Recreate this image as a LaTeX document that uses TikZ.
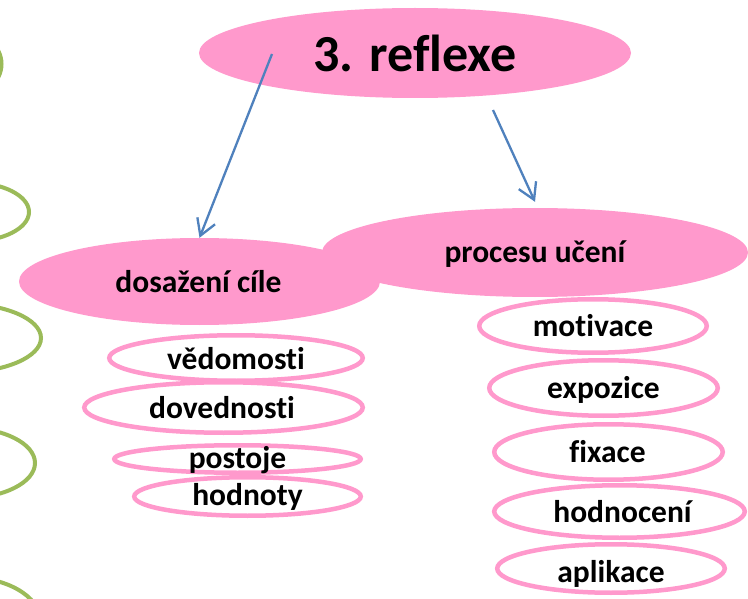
\documentclass[tikz,border=0pt]{standalone}
\usepackage{fontspec}
\setmainfont{Carlito}[Ligatures=NoCommon]
\usetikzlibrary{arrows.meta,shapes.geometric}
\definecolor{pinkfill}{HTML}{FF99CC}
\definecolor{greenline}{HTML}{9BBB59}
\definecolor{bluearrow}{HTML}{4F81BD}
\begin{document}
\begin{tikzpicture}[x=1pt,y=-1pt,
  bigoval/.style={ellipse, fill=pinkfill, draw=none, inner sep=0pt},
  oval/.style={ellipse, draw=pinkfill, line width=4.5pt, inner sep=0pt},
  lbl/.style={inner sep=0pt, text height=21pt, text depth=0pt, font=\fontsize{31.5}{36}\selectfont\bfseries},
  titletext/.style={inner sep=0pt, text height=38pt, text depth=0pt, font=\fontsize{52}{60}\selectfont\bfseries},
  conn/.style={draw=bluearrow, line width=2.3pt, -{Straight Barb[length=16pt,width=19pt]}},
  wave/.style={draw=greenline, line width=4pt}]
\clip (0,0) rectangle (748,599);
\fill[white] (0,0) rectangle (748,599);
% green arcs at the left edge
\draw[wave] (-40,64) ellipse [x radius=41.5pt, y radius=34pt];
\draw[wave] (-30,212) ellipse [x radius=59pt, y radius=29.6pt];
\draw[wave] (-40,338) ellipse [x radius=81pt, y radius=34.5pt];
\draw[wave] (-35,463) ellipse [x radius=70pt, y radius=35.2pt];
\draw[wave] (-35,620) ellipse [x radius=75pt, y radius=43pt];
% filled ellipses
\node[bigoval, minimum width=432pt, minimum height=90pt] (top) at (415,53) {};
\node[bigoval, minimum width=426pt, minimum height=89pt] (proc) at (535,252.5) {};
\node[bigoval, minimum width=361pt, minimum height=87pt] (dos) at (199.5,281.5) {};
\node[titletext] (top-t) at (top) {3. reflexe};
\node[lbl] (proc-t) at (proc) {procesu učení};
\node[lbl] (dos-t) at ([xshift=-1pt]dos.center) {dosažení cíle};
% outlined ellipses, left
\node[oval, minimum width=253.5pt, minimum height=45.5pt] (vedo) at (236,358) {};
\node[oval, minimum width=278.5pt, minimum height=50.5pt] (dove) at (223.5,407.5) {};
\node[oval, minimum width=246.5pt, minimum height=27.5pt] (post) at (237.5,459) {};
\node[oval, minimum width=226.5pt, minimum height=38.5pt] (hodt) at (247.5,496.5) {};
\node[lbl] (vedo-t) at ([yshift=-1pt]vedo.center) {vědomosti};
\node[lbl] (dove-t) at ([xshift=-1.5pt]dove.center) {dovednosti};
\node[lbl] (post-t) at ([yshift=1pt]post.center) {postoje};
\node[lbl] (hodt-t) at ([yshift=2pt]hodt.center) {hodnoty};
% outlined ellipses, right
\node[oval, minimum width=227.5pt, minimum height=53.5pt] (moti) at (593,326) {};
\node[oval, minimum width=228.5pt, minimum height=55.5pt] (expo) at (603.5,388) {};
\node[oval, minimum width=228.5pt, minimum height=55.5pt] (fixa) at (608.5,452) {};
\node[oval, minimum width=250.5pt, minimum height=52.5pt] (hodc) at (619.5,511.5) {};
\node[oval, minimum width=227.5pt, minimum height=48.5pt] (apli) at (611,568.5) {};
\node[lbl] (moti-t) at (moti) {motivace};
\node[lbl] (expo-t) at (expo) {expozice};
\node[lbl] (fixa-t) at ([xshift=-1pt]fixa.center) {fixace};
\node[lbl] (hodc-t) at ([xshift=3pt]hodc.center) {hodnocení};
\node[lbl] (apli-t) at ([yshift=-3pt]apli.center) {aplikace};
% arrows
\coordinate (a1) at (272,54);
\coordinate (a2) at (493,110);
\draw[conn] (a1) -- (dos.north);
\draw[conn] (a2) -- ([yshift=6pt]proc.north);
\end{tikzpicture}
\end{document}
